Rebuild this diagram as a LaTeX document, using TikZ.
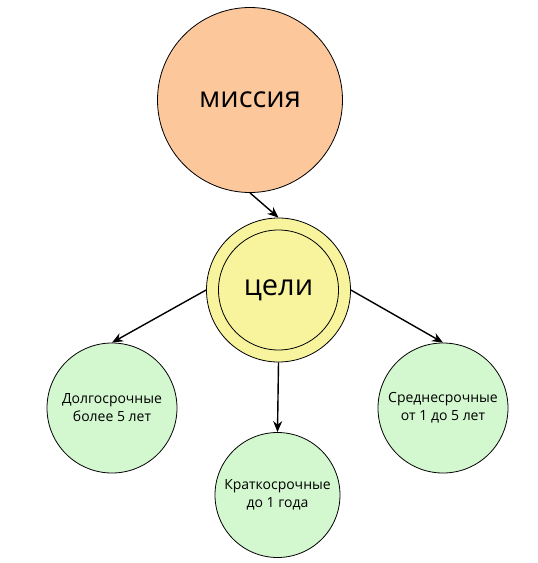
\documentclass[tikz,border=0pt]{standalone}
\usepackage{fontspec}
\setmainfont{Open Sans}
\usetikzlibrary{arrows.meta}
\definecolor{peach}{HTML}{FBC79B}
\definecolor{lyellow}{HTML}{F8F49E}
\definecolor{lgreen}{HTML}{D3F7CF}
\tikzset{
  bubble/.style={circle, draw=black, line width=0.8pt, inner sep=0pt, align=center},
  conn/.style={line width=1.4pt, -{Stealth[length=11pt,width=9pt]}},
  small/.style={font=\fontsize{14}{18}\selectfont},
  big/.style={font=\fontsize{29}{32}\selectfont}
}
\begin{document}
\begin{tikzpicture}[x=1pt,y=-1pt]
\useasboundingbox (0,0) rectangle (538,563);
\node[bubble, fill=peach, minimum size=185pt, big] (mission) at (250,100) {миссия};
\node[bubble, fill=lyellow, minimum size=144pt] (goals) at (278.5,290) {};
\node[bubble, minimum size=120pt, big] (goalsin) at (278.5,290) {цели};
\node[bubble, fill=lgreen, minimum size=130pt, small] (long) at (112,408) {Долгосрочные\\более 5 лет};
\node[bubble, fill=lgreen, minimum size=130pt, small] (mid) at (443,408) {Среднесрочные\\от 1 до 5 лет};
\node[bubble, fill=lgreen, minimum size=125pt, small] (short) at (277.5,495) {Краткосрочные\\до 1 года};
\draw[conn] (mission.south) -- (goals.north);
\draw[conn] (goals.west) -- (long.north);
\draw[conn] (goals.east) -- (mid.north);
\draw[conn] (goals.south) -- (short.north);
\end{tikzpicture}
\end{document}
